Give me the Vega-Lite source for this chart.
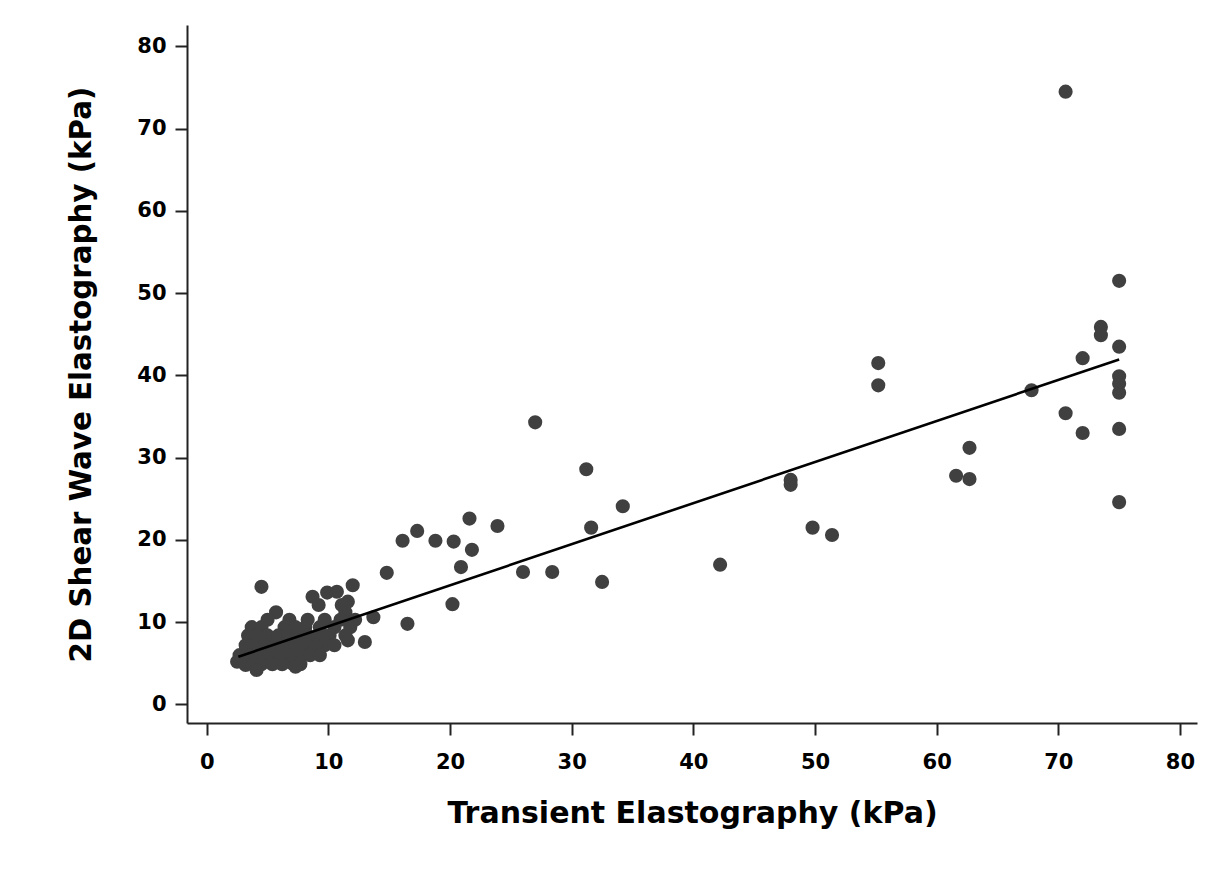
{
  "$schema": "https://vega.github.io/schema/vega-lite/v6.json",
  "width": 1010,
  "height": 698,
  "autosize": "none",
  "padding": {"left": 187, "top": 25, "right": 18, "bottom": 160},
  "background": "white",
  "config": {
    "view": {"stroke": null},
    "font": "DejaVu Sans",
    "axis": {
      "grid": false,
      "domainColor": "#222222",
      "domainWidth": 2,
      "tickColor": "#222222",
      "tickWidth": 2,
      "tickSize": 12,
      "labelFont": "DejaVu Sans",
      "labelFontWeight": "bold",
      "labelFontSize": 21,
      "labelColor": "black",
      "titleFont": "DejaVu Sans",
      "titleFontWeight": "bold",
      "titleFontSize": 29,
      "titleColor": "black"
    }
  },
  "datasets": {
    "pts": [
      {"te": 70.6, "swe": 74.5},
      {"te": 75.0, "swe": 51.5},
      {"te": 73.5, "swe": 45.9},
      {"te": 73.5, "swe": 44.9},
      {"te": 75.0, "swe": 43.5},
      {"te": 72.0, "swe": 42.1},
      {"te": 67.8, "swe": 38.2},
      {"te": 75.0, "swe": 39.9},
      {"te": 75.0, "swe": 39.0},
      {"te": 75.0, "swe": 37.9},
      {"te": 70.6, "swe": 35.4},
      {"te": 72.0, "swe": 33.0},
      {"te": 75.0, "swe": 33.5},
      {"te": 75.0, "swe": 24.6},
      {"te": 55.2, "swe": 41.5},
      {"te": 55.2, "swe": 38.8},
      {"te": 48.0, "swe": 27.3},
      {"te": 48.0, "swe": 26.7},
      {"te": 49.8, "swe": 21.5},
      {"te": 51.4, "swe": 20.6},
      {"te": 62.7, "swe": 31.2},
      {"te": 61.6, "swe": 27.8},
      {"te": 62.7, "swe": 27.4},
      {"te": 42.2, "swe": 17.0},
      {"te": 27.0, "swe": 34.3},
      {"te": 31.2, "swe": 28.6},
      {"te": 31.6, "swe": 21.5},
      {"te": 34.2, "swe": 24.1},
      {"te": 32.5, "swe": 14.9},
      {"te": 26.0, "swe": 16.1},
      {"te": 28.4, "swe": 16.1},
      {"te": 23.9, "swe": 21.7},
      {"te": 21.6, "swe": 22.6},
      {"te": 21.8, "swe": 18.8},
      {"te": 17.3, "swe": 21.1},
      {"te": 16.1, "swe": 19.9},
      {"te": 18.8, "swe": 19.9},
      {"te": 20.3, "swe": 19.8},
      {"te": 20.9, "swe": 16.7},
      {"te": 20.2, "swe": 12.2},
      {"te": 14.8, "swe": 16.0},
      {"te": 16.5, "swe": 9.8},
      {"te": 13.0, "swe": 7.6},
      {"te": 13.7, "swe": 10.6},
      {"te": 12.0, "swe": 14.5},
      {"te": 4.5, "swe": 14.3},
      {"te": 8.7, "swe": 13.1},
      {"te": 9.9, "swe": 13.6},
      {"te": 10.7, "swe": 13.7},
      {"te": 11.6, "swe": 12.5},
      {"te": 9.2, "swe": 12.1},
      {"te": 11.1, "swe": 12.1},
      {"te": 5.7, "swe": 11.2},
      {"te": 11.4, "swe": 11.2},
      {"te": 5.0, "swe": 10.3},
      {"te": 6.8, "swe": 10.3},
      {"te": 8.3, "swe": 10.3},
      {"te": 9.7, "swe": 10.3},
      {"te": 11.0, "swe": 10.3},
      {"te": 12.2, "swe": 10.3},
      {"te": 3.7, "swe": 9.4},
      {"te": 4.5, "swe": 9.4},
      {"te": 6.4, "swe": 9.4},
      {"te": 7.3, "swe": 9.4},
      {"te": 8.1, "swe": 9.4},
      {"te": 9.3, "swe": 9.4},
      {"te": 10.5, "swe": 9.4},
      {"te": 11.8, "swe": 9.4},
      {"te": 3.4, "swe": 8.4},
      {"te": 4.2, "swe": 8.4},
      {"te": 5.0, "swe": 8.4},
      {"te": 5.9, "swe": 8.4},
      {"te": 6.7, "swe": 8.4},
      {"te": 7.5, "swe": 8.4},
      {"te": 8.3, "swe": 8.4},
      {"te": 9.2, "swe": 8.4},
      {"te": 10.1, "swe": 8.4},
      {"te": 11.4, "swe": 8.4},
      {"te": 3.2, "swe": 7.2},
      {"te": 4.0, "swe": 7.2},
      {"te": 4.8, "swe": 7.2},
      {"te": 5.6, "swe": 7.2},
      {"te": 6.4, "swe": 7.2},
      {"te": 7.3, "swe": 7.2},
      {"te": 8.1, "swe": 7.2},
      {"te": 8.9, "swe": 7.2},
      {"te": 9.7, "swe": 7.2},
      {"te": 10.5, "swe": 7.2},
      {"te": 11.6, "swe": 7.8},
      {"te": 9.0, "swe": 6.9},
      {"te": 2.7, "swe": 6.0},
      {"te": 3.6, "swe": 6.0},
      {"te": 4.4, "swe": 6.0},
      {"te": 5.2, "swe": 6.0},
      {"te": 6.0, "swe": 6.0},
      {"te": 6.8, "swe": 6.0},
      {"te": 7.7, "swe": 6.0},
      {"te": 8.5, "swe": 6.0},
      {"te": 9.3, "swe": 6.0},
      {"te": 2.5, "swe": 5.2},
      {"te": 3.2, "swe": 4.8},
      {"te": 3.8, "swe": 4.9},
      {"te": 4.5, "swe": 4.9},
      {"te": 5.4, "swe": 4.9},
      {"te": 6.2, "swe": 4.9},
      {"te": 7.0, "swe": 5.0},
      {"te": 7.7, "swe": 4.9},
      {"te": 4.1, "swe": 4.2},
      {"te": 7.3, "swe": 4.6}
    ],
    "fit": [
      {"te": 2.6, "swe": 5.8},
      {"te": 75.0, "swe": 41.95}
    ]
  },
  "layer": [
    {
      "data": {"name": "pts"},
      "mark": {"type": "point", "filled": true, "shape": "circle", "size": 200, "color": "#404040", "opacity": 1, "strokeWidth": 0},
      "encoding": {
        "x": {
          "field": "te", "type": "quantitative",
          "scale": {"domain": [-1.62, 81.4], "nice": false, "zero": false},
          "axis": {"values": [0, 10, 20, 30, 40, 50, 60, 70, 80], "title": "Transient Elastography (kPa)", "labelPadding": 16, "titlePadding": 26, "titleFontSize": 30}
        },
        "y": {
          "field": "swe", "type": "quantitative",
          "scale": {"domain": [-2.25, 82.6], "nice": false, "zero": false},
          "axis": {"values": [0, 10, 20, 30, 40, 50, 60, 70, 80], "title": "2D Shear Wave Elastography (kPa)", "labelPadding": 9, "titlePadding": 40, "titleFontSize": 29.3}
        }
      }
    },
    {
      "data": {"name": "fit"},
      "mark": {"type": "line", "color": "black", "strokeWidth": 2.6},
      "encoding": {
        "x": {"field": "te", "type": "quantitative"},
        "y": {"field": "swe", "type": "quantitative"}
      }
    }
  ]
}
